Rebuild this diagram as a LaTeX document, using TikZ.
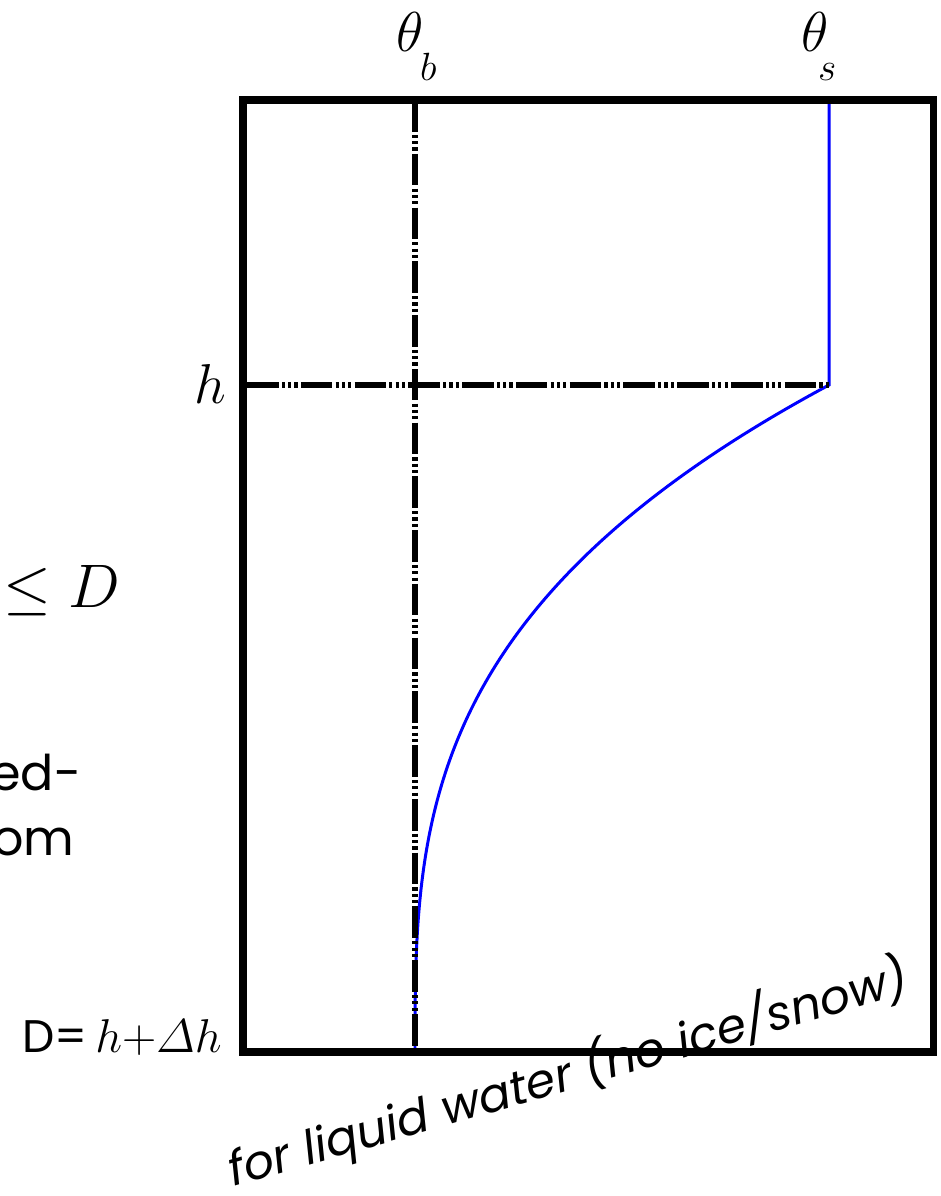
\RequirePackage{fix-cm}
\documentclass[tikz,border=0pt]{standalone}
\usepackage{amsmath}
\usepackage{fontspec}
\newfontfamily\comic{Poppins}
\begin{document}
\begin{tikzpicture}[x=0.02cm,y=-0.02cm,
  frame/.style={line width=4pt, line join=miter},
  guide/.style={line width=3.2pt, dash pattern=on 18pt off 1.8pt on 1.8pt off 1.8pt on 1.8pt off 1.8pt on 1.8pt off 1.8pt},
  profile/.style={blue, line width=1.7pt},
  mathlbl/.style={inner sep=0pt, font=\fontsize{32}{36}\selectfont},
  comiclbl/.style={inner sep=0pt, font=\comic\fontsize{28}{34}\selectfont}]
\useasboundingbox (0,0) rectangle (940,1196);
% blue profile
\draw[profile] (829,100) -- (829,385) -- plot[domain=0:1, samples=120] ({415+414*(1-\x)^3}, {385+667*\x});
% guides
\draw[guide] (415,100) -- (415,1052);
\draw[guide] (247,385) -- (829,385);
% frame
\draw[frame] (243,100) rectangle (933,1052);
% labels
\node[mathlbl, anchor=base west] (thb) at (396,52) {$\theta$\kern-2pt\raisebox{-16pt}{$\scriptstyle b$}};
\node[mathlbl, anchor=base west] (ths) at (801,52) {$\theta$\kern-6pt\raisebox{-16pt}{$\scriptstyle s$}};
\node[mathlbl, anchor=base east] (h) at (227,403) {$h$};
\node[mathlbl, anchor=base west, font=\fontsize{35}{40}\selectfont] (leD) at (3,607) {$\leq D$};
\node[comiclbl, anchor=base west] (ed) at (-10,790) {ed-};
\node[comiclbl, anchor=base west] (om) at (-8,855) {om};
\node[comiclbl, font=\comic\fontsize{26}{32}\selectfont, anchor=base west] (Deq) at (22,1052) {D=};
\node[mathlbl, font=\fontsize{27}{32}\selectfont, anchor=base east] (hdh) at (222,1052) {$h{+}\varDelta h$};
\node[comiclbl, font=\comic\itshape\fontsize{27}{32}\selectfont, rotate=16, anchor=center] (note) at (568,1074) {for liquid water (no ice/snow)};
\end{tikzpicture}
\end{document}
